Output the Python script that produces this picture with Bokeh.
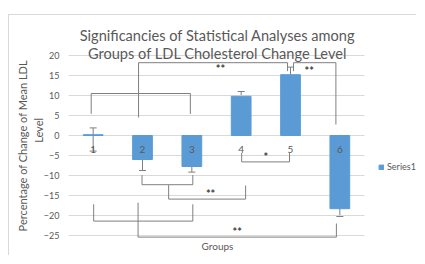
from bokeh.plotting import figure
from bokeh.models import (ColumnDataSource, Whisker, TeeHead, Label, Legend,
                          LegendItem, FixedTicker, Range1d, LinearAxis)
from bokeh.core.properties import value
from bokeh.embed import file_html
from bokeh.resources import INLINE

# ---- data ----
groups = ["1", "2", "3", "4", "5", "6"]
group_pos = [1, 2, 3, 4, 5, 6]
means = [0.2, -6.0, -7.75, 9.8, 15.2, -18.3]
err_lower = [-3.9, -8.75, -9.15, 8.75, 13.2, -20.25]
err_upper = [1.9, -3.25, -6.65, 11.0, 17.1, -16.5]
y_ticks = [-25, -20, -15, -10, -5, 0, 5, 10, 15, 20]

# significance brackets (group coordinates / percentage values)
cmp_left = [0.96, 1.92, 5.06, 4.01, 1.99, 2.53, 1.01, 1.91]
cmp_right = [2.97, 4.94, 5.92, 4.98, 3.02, 4.09, 3.02, 5.93]
cmp_level = [10.5, 18.2, 18.2, -6.6, -12.3, -15.9, -21.4, -25.4]
cmp_left_end = [5.4, 4.5, 16.1, -4.4, -9.9, -12.4, -17.2, -16.8]
cmp_right_end = [5.4, 16.1, 2.75, -4.4, -9.9, -12.5, -17.2, -22.0]

sig_x = [3.58, 5.38, 4.5, 3.38, 3.92]
sig_y = [16.7, 16.25, -5.25, -14.6, -24.0]
sig_text = ["**", "**", "*", "**", "**"]

title_lines = ["Significancies of Statistical Analyses among",
               "Groups of LDL Cholesterol Change Level"]
x_title = "Groups"
y_title_1 = "Percentage of Change of  Mean LDL"
y_title_2 = "Level"
series_name = "Series1"

FONT = "Lato"
TXT = "#595959"
GRID = "#d9d9d9"
BLUE = "#5b9bd5"
NB = "\u00a0"

X_LO, X_HI = 0.5, 6.5          # category span of the plot area

p = figure(width=408, height=241,
           x_range=Range1d(X_LO, 7.574), y_range=Range1d(-30.25, 30),
           x_axis_type=None, output_backend="svg", toolbar_location=None,
           min_border_left=59, min_border_right=0,
           min_border_top=0, min_border_bottom=0)
p.title.visible = False
p.outline_line_color = None
p.styles = {"margin-top": "14px", "margin-left": "8px",
            "border-top": "1px solid #d9d9d9",
            "border-left": "1px solid #d9d9d9"}

ax = p.yaxis[0]
ax.ticker = FixedTicker(ticks=y_ticks)
ax.axis_line_color = None
ax.major_tick_line_color = None
ax.minor_tick_line_color = None
ax.major_tick_out = 0
ax.major_label_text_color = TXT
ax.major_label_text_font = FONT
ax.major_label_text_font_size = "9px"
ax.major_label_standoff = 9
ax.axis_label = NB * 4 + y_title_2
ax.axis_label_text_font = FONT
ax.axis_label_text_font_size = "11px"
ax.axis_label_text_font_style = "normal"
ax.axis_label_text_color = TXT
ax.axis_label_standoff = -4

ax2 = LinearAxis(ticker=FixedTicker(ticks=[]), axis_line_color=None,
                 major_tick_line_color=None, minor_tick_line_color=None,
                 major_tick_out=0, major_label_standoff=0,
                 axis_label=y_title_1 + NB * 6, axis_label_text_font=FONT,
                 axis_label_text_font_size="11px",
                 axis_label_text_font_style="normal",
                 axis_label_text_color=TXT, axis_label_standoff=0)
p.add_layout(ax2, "left")

p.ygrid.grid_line_color = None
p.xgrid.grid_line_color = None
# horizontal gridlines limited to the category span
p.segment(x0=[X_LO] * len(y_ticks), x1=[X_HI] * len(y_ticks),
          y0=y_ticks, y1=y_ticks, line_color=GRID, line_width=1)

src = ColumnDataSource(dict(x=group_pos, top=means, lower=err_lower,
                            upper=err_upper, name=groups,
                            ly=[-3.4] * len(groups)))

bars = p.vbar(x="x", top="top", bottom=0, width=0.4, source=src,
              fill_color=BLUE, line_color=BLUE)

whisk = Whisker(base="x", upper="upper", lower="lower", source=src,
                line_color="#7f7f7f", line_width=1,
                upper_head=TeeHead(size=7, line_color="#7f7f7f"),
                lower_head=TeeHead(size=7, line_color="#7f7f7f"))
p.add_layout(whisk)

p.text(x="x", y="ly", text="name", source=src, text_font=value(FONT),
       text_font_size="10px", text_color=TXT, text_align="center",
       text_baseline="middle")

xs, ys = [], []
for xl, xr, lv, le, re in zip(cmp_left, cmp_right, cmp_level, cmp_left_end, cmp_right_end):
    xs.append([xl, xl, xr, xr])
    ys.append([le, lv, lv, re])
p.multi_line(xs=xs, ys=ys, line_color="#7f7f7f", line_width=1)

p.text(x=sig_x, y=sig_y, text=sig_text, text_font=value(FONT),
       text_font_size="11px", text_font_style="bold", text_color="#404040",
       text_align="center", text_baseline="middle")

# titles
for txt, yy in zip(title_lines, [25.0, 20.5]):
    p.add_layout(Label(x=3.52, y=yy, text=txt,
                       text_font=FONT, text_font_size="14.6px", text_color=TXT,
                       text_align="center", text_baseline="middle"))
p.add_layout(Label(x=3.52, y=-27.5, text=x_title,
                   text_font=FONT, text_font_size="10px", text_color=TXT,
                   text_align="center", text_baseline="middle"))

legend = Legend(items=[LegendItem(label=series_name, renderers=[bars])],
                location=(310, 84), border_line_color=None,
                background_fill_alpha=0, padding=0, margin=0,
                glyph_width=6, glyph_height=6, label_height=10,
                label_standoff=3, label_text_font=FONT,
                label_text_font_size="9px", label_text_color=TXT)
p.add_layout(legend)

open("out.html", "w").write(file_html(p, INLINE))
